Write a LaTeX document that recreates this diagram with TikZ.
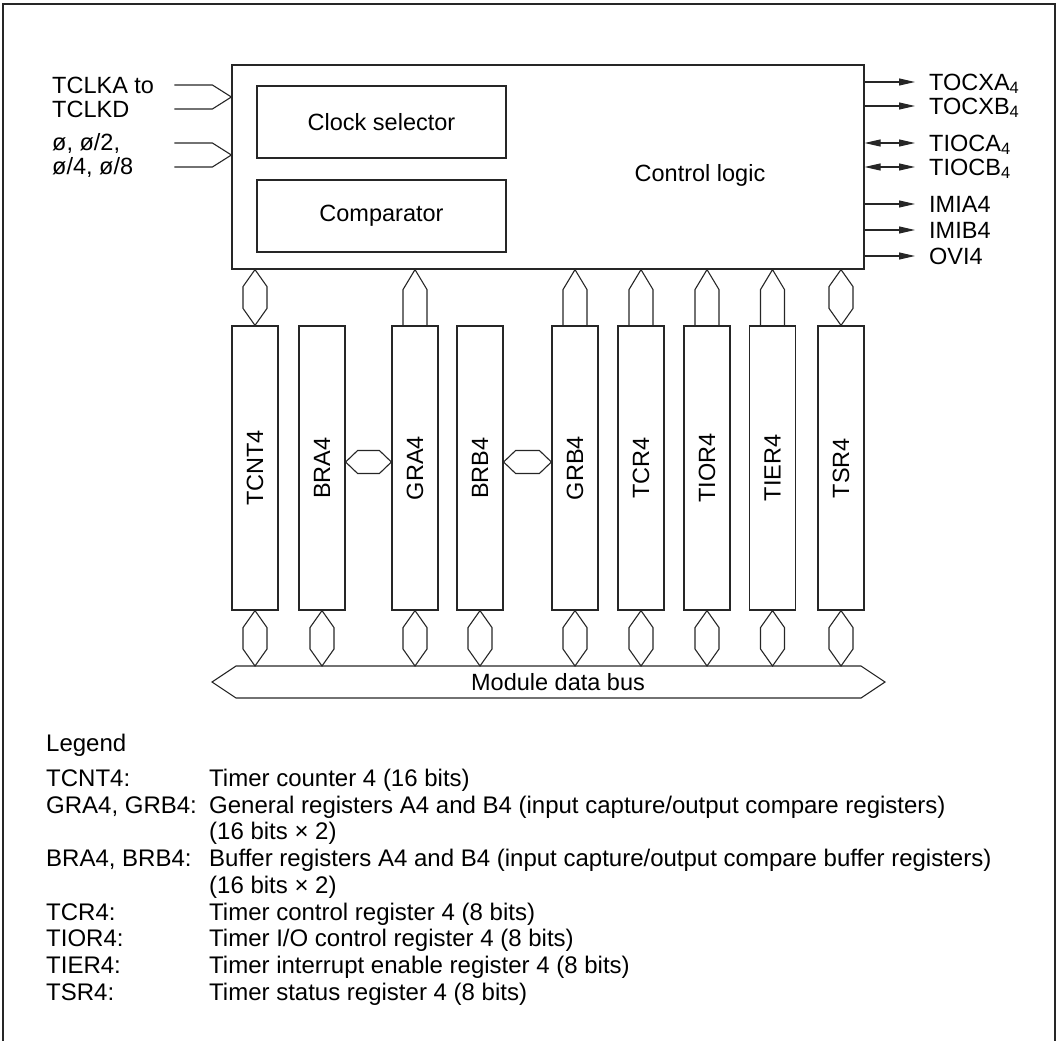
\documentclass[tikz,border=0pt]{standalone}
\usepackage{fontspec}
\setmainfont{Liberation Sans}
\usetikzlibrary{arrows.meta, positioning, calc}

\tikzset{
  lbl/.style={font=\fontsize{23.5}{24}\selectfont, inner sep=0pt},
  box/.style={draw=black!85, line width=1.2pt, inner sep=0pt, lbl},
  reg/.style={box, minimum width=46pt, minimum height=284pt},
  busline/.style={draw=black!85, line width=1.1pt, line join=miter},
  sig/.style={draw=black!85, line width=1.1pt, ->, >={Triangle[length=16pt, width=7pt]}},
  bisig/.style={sig, <->},
  outlbl/.style={lbl, anchor=west, text height=16.5pt, text depth=0pt},
}

% two-way bus between two apexes, top (#1) and bottom (#2)
\newcommand{\vhex}[2]{%
  \draw[busline] (#1) -- ($(#1)+(12,17)$) -- ($(#2)+(12,-17)$) -- (#2)
    -- ($(#2)+(-12,-17)$) -- ($(#1)+(-12,17)$) -- cycle;}
% one-way bus, apex (#1) on top, foot (#2) below
\newcommand{\vup}[2]{%
  \draw[busline] ($(#2)+(-12,0)$) -- ($(#1)+(-12,20)$) -- (#1)
    -- ($(#1)+(12,20)$) -- ($(#2)+(12,0)$);}
% two-way bus, left apex (#1), right apex (#2)
\newcommand{\hhex}[2]{%
  \draw[busline] (#1) -- ($(#1)+(12,-11.5)$) -- ($(#2)+(-12,-11.5)$) -- (#2)
    -- ($(#2)+(-12,11.5)$) -- ($(#1)+(12,11.5)$) -- cycle;}

\begin{document}
\begin{tikzpicture}[x=1pt, y=-1pt]
\useasboundingbox (0,0) rectangle (1058,1041);

% frame, open at the bottom
\draw[black!85, line width=1.2pt] (3,1041) -- (3,4) -- (1055,4) -- (1055,1041);

% control logic block
\node[box, minimum width=632pt, minimum height=204pt] (ctrl) at (548,167) {};
\node[lbl] (ctrltxt) at (700,175) {Control logic};
\node[box, minimum width=249pt, minimum height=72pt] (clksel) at (381.5,122) {Clock selector};
\node[box, minimum width=249pt, minimum height=72pt] (comp) at (381.5,216) {Comparator};

% clock inputs
\node[lbl, anchor=west, align=left] (tclk) at (52,97) {TCLKA to\\TCLKD};
\node[lbl, anchor=west, align=left] (phi) at (52,155) {ø, ø/2,\\ø/4, ø/8};
\coordinate (inA) at (ctrl.west |- tclk.west);
\coordinate (inB) at (ctrl.west |- phi.west);
\draw[busline] ($(inA)+(-57,-12)$) -- ++(38,0) -- (inA) -- ++(-19,12) -- ++(-38,0);
\draw[busline] ($(inB)+(-57,-12)$) -- ++(38,0) -- (inB) -- ++(-19,12) -- ++(-38,0);

% outputs
\foreach \name/\txt/\y in {tocxa/TOCXA\textsubscript{4}/82, tocxb/TOCXB\textsubscript{4}/106,
    tioca/TIOCA\textsubscript{4}/143, tiocb/TIOCB\textsubscript{4}/167,
    imia/IMIA4/204, imib/IMIB4/230, ovi/OVI4/256}
  \node[outlbl] (\name) at (929,\y) {\txt};
\foreach \name in {tocxa, tocxb, imia, imib, ovi}
  \draw[sig] (ctrl.east |- \name.west) -- ($(\name.west)+(-14,0)$);
\foreach \name in {tioca, tiocb}
  \draw[bisig] (ctrl.east |- \name.west) -- ($(\name.west)+(-14,0)$);

% registers
\foreach \name/\txt/\x in {tcnt/TCNT4/255, bra/BRA4/322, gra/GRA4/415, brb/BRB4/480,
    grb/GRB4/575, tcr/TCR4/641, tior/TIOR4/707, tier/TIER4/772.5, tsr/TSR4/841}
  \node[reg] (\name) at (\x,468) {\rotatebox{90}{\txt}};

% register to control logic
\vhex{tcnt |- ctrl.south}{tcnt.north}
\vhex{tsr |- ctrl.south}{tsr.north}
\foreach \name in {gra, grb, tcr, tior, tier}
  {\vup{\name |- ctrl.south}{\name.north}}

% buffer to general register
\coordinate (xa1) at ($(bra.east)+(0,-6)$);
\coordinate (xa2) at ($(gra.west)+(0,-6)$);
\coordinate (xb1) at ($(brb.east)+(0,-6)$);
\coordinate (xb2) at ($(grb.west)+(0,-6)$);
\hhex{xa1}{xa2}
\hhex{xb1}{xb2}

% module data bus
\coordinate (busL) at (212,682);
\coordinate (busR) at (885,682);
\coordinate (bustop) at (0,666);
\draw[busline] (busL) -- ++(24,-16) -- ($(busR)+(-24,-16)$) -- (busR)
  -- ++(-24,16) -- ($(busL)+(24,16)$) -- cycle;
\node[lbl] (bus) at (558,682) {Module data bus};
\foreach \name in {tcnt, bra, gra, brb, grb, tcr, tior, tier, tsr}
  {\vhex{\name.south}{\name |- bustop}}

% legend
\node[lbl, anchor=west, font=\fontsize{24}{26.7}\selectfont] (legend) at (46,745) {Legend};
\node[lbl, anchor=base west, font=\fontsize{24}{26.7}\selectfont] (legtab) at (46,786.5) {%
  \begin{tabular}[t]{@{}p{163pt}@{}l@{}}
  TCNT4: & Timer counter 4 (16 bits)\\
  GRA4, GRB4: & General registers A4 and B4 (input capture/output compare registers)\\
   & (16 bits × 2)\\
  BRA4, BRB4: & Buffer registers A4 and B4 (input capture/output compare buffer registers)\\
   & (16 bits × 2)\\
  TCR4: & Timer control register 4 (8 bits)\\
  TIOR4: & Timer I/O control register 4 (8 bits)\\
  TIER4: & Timer interrupt enable register 4 (8 bits)\\
  TSR4: & Timer status register 4 (8 bits)
  \end{tabular}};
\end{tikzpicture}
\end{document}
